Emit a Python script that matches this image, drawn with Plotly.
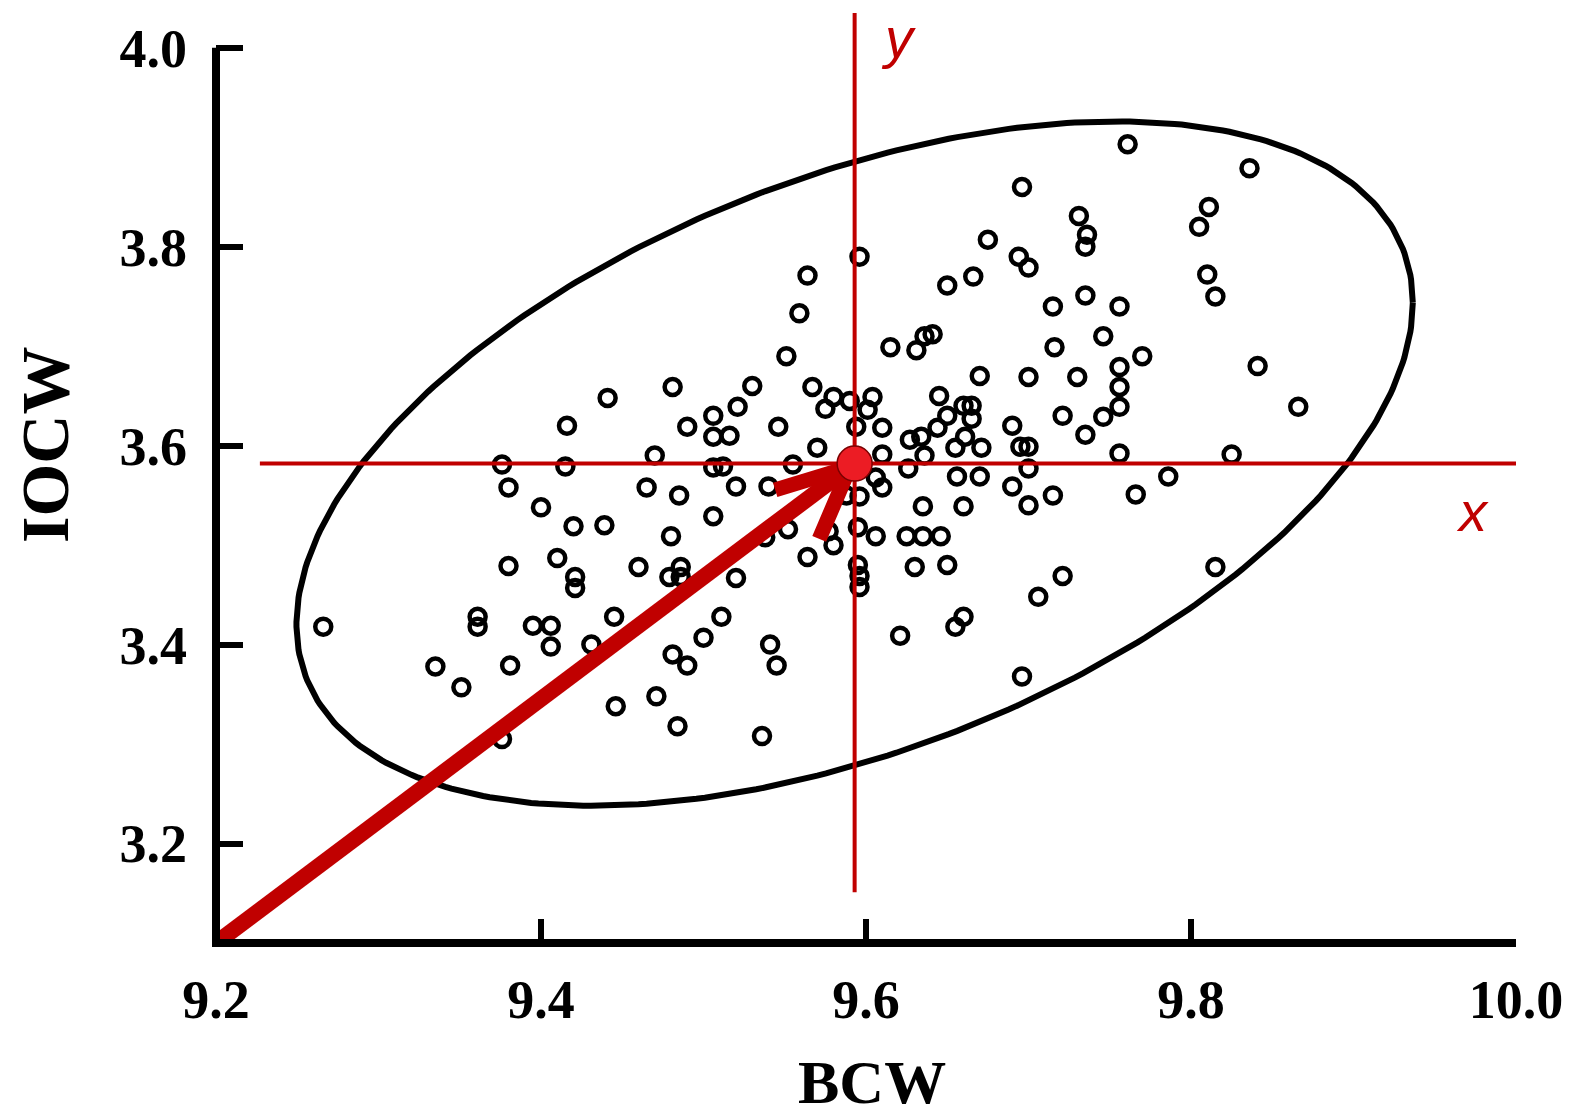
import numpy as np
import plotly.graph_objects as go

# ---------------- data ----------------
bcw = [9.266, 9.335, 9.351, 9.361, 9.361, 9.376, 9.380, 9.380, 9.381, 9.376,
       9.400, 9.395, 9.406, 9.406, 9.410, 9.416, 9.415, 9.420, 9.421, 9.421,
       9.431, 9.441, 9.439, 9.445, 9.446, 9.460, 9.470, 9.465, 9.471, 9.481,
       9.480, 9.486, 9.479, 9.486, 9.485, 9.481, 9.490, 9.484, 9.490, 9.500,
       9.506, 9.506, 9.516, 9.506, 9.512, 9.506, 9.511, 9.521, 9.520, 9.520,
       9.530, 9.540, 9.541, 9.545, 9.536, 9.546, 9.551, 9.559, 9.564, 9.567,
       9.580, 9.575, 9.590, 9.570, 9.555, 9.552, 9.538, 9.577, 9.580, 9.564,
       9.588,
       9.596, 9.604, 9.601, 9.594, 9.610, 9.610, 9.606, 9.610, 9.596, 9.595,
       9.606, 9.595, 9.596, 9.596, 9.615, 9.631, 9.636, 9.641, 9.627, 9.634,
       9.636, 9.626, 9.635, 9.625, 9.635, 9.646, 9.630, 9.621, 9.650, 9.666,
       9.670, 9.645, 9.650, 9.660, 9.665, 9.665, 9.644, 9.661, 9.655, 9.671,
       9.656, 9.670, 9.660, 9.650, 9.660, 9.655, 9.675, 9.696, 9.694, 9.700,
       9.690, 9.695, 9.700, 9.700, 9.700, 9.690, 9.700, 9.706, 9.696, 9.715,
       9.716, 9.715, 9.721, 9.721, 9.731, 9.736, 9.735, 9.735, 9.730, 9.735,
       9.746, 9.746, 9.756, 9.756, 9.756, 9.756, 9.756, 9.766, 9.770, 9.761,
       9.786, 9.805, 9.811, 9.810, 9.815, 9.825, 9.815, 9.836, 9.841, 9.866]

iocw = [3.418, 3.378, 3.357, 3.428, 3.418, 3.581, 3.558, 3.479, 3.379, 3.305,
        3.538, 3.419, 3.419, 3.398, 3.487, 3.620, 3.579, 3.519, 3.468, 3.457,
        3.400, 3.648, 3.520, 3.428, 3.338, 3.478, 3.590, 3.558, 3.348, 3.659,
        3.509, 3.478, 3.468, 3.468, 3.550, 3.390, 3.379, 3.318, 3.619, 3.407,
        3.630, 3.609, 3.610, 3.578, 3.579, 3.529, 3.428, 3.639, 3.559, 3.467,
        3.660, 3.559, 3.400, 3.379, 3.308, 3.619, 3.690, 3.733, 3.771, 3.659,
        3.649, 3.637, 3.645, 3.598, 3.581, 3.516, 3.508, 3.514, 3.500, 3.488,
        3.550,
        3.790, 3.649, 3.636, 3.619, 3.618, 3.591, 3.568, 3.558, 3.549, 3.518,
        3.509, 3.480, 3.469, 3.458, 3.699, 3.696, 3.710, 3.712, 3.606, 3.609,
        3.590, 3.577, 3.539, 3.509, 3.509, 3.509, 3.478, 3.409, 3.761, 3.770,
        3.670, 3.650, 3.630, 3.640, 3.640, 3.627, 3.618, 3.609, 3.598, 3.598,
        3.569, 3.569, 3.539, 3.480, 3.428, 3.418, 3.807, 3.860, 3.790, 3.779,
        3.620, 3.599, 3.599, 3.669, 3.577, 3.559, 3.540, 3.448, 3.368, 3.740,
        3.699, 3.550, 3.630, 3.469, 3.831, 3.812, 3.800, 3.751, 3.669, 3.611,
        3.710, 3.629, 3.740, 3.679, 3.659, 3.639, 3.592, 3.551, 3.690, 3.903,
        3.569, 3.820, 3.840, 3.772, 3.750, 3.591, 3.478, 3.879, 3.680, 3.639]

mean_xy = [9.593, 3.582]          # centroid (red dot)
origin_xy = [9.2, 3.1]            # arrow start
ellipse_r = [0.3435, 0.344]       # ellipse half-extents in x and y
ellipse_rho = 0.47                # correlation of the ellipse
hline_x = [9.227, 10.0]           # extent of the red x axis
vline_y = [3.151, 4.035]          # extent of the red y axis
x_ticks = [9.2, 9.4, 9.6, 9.8, 10.0]
y_ticks = [3.2, 3.4, 3.6, 3.8, 4.0]

# ---------------- layout geometry ----------------
W, H = 1571, 1119
ML, MR, MT, MB = 216, 55, 8, 176
xr = [9.2, 10.0]
yr = [3.1, 4.04]
plot_w = W - ML - MR
plot_h = H - MT - MB
sx = plot_w / (xr[1] - xr[0])
sy = plot_h / (yr[1] - yr[0])

RED = "#C00000"
SERIF = "Liberation Serif"

fig = go.Figure()

# ellipse
t = np.linspace(0, 2 * np.pi, 400)
phi = np.arccos(ellipse_rho)
ex = mean_xy[0] + ellipse_r[0] * np.cos(t)
ey = mean_xy[1] + ellipse_r[1] * np.cos(t - phi)
fig.add_trace(go.Scatter(x=ex, y=ey, mode="lines",
                         line=dict(color="black", width=6), hoverinfo="skip"))

# data points
fig.add_trace(go.Scatter(x=bcw, y=iocw, mode="markers",
                         marker=dict(symbol="circle-open", size=16, color="black",
                                     line=dict(width=4.5, color="black")),
                         hoverinfo="skip"))

# red axes through the centroid
fig.add_trace(go.Scatter(x=hline_x, y=[mean_xy[1]] * 2, mode="lines",
                         line=dict(color=RED, width=4), hoverinfo="skip"))
fig.add_trace(go.Scatter(x=[mean_xy[0]] * 2, y=vline_y, mode="lines",
                         line=dict(color=RED, width=4), hoverinfo="skip"))

# arrow from origin to centroid
ang = np.arctan2((mean_xy[1] - origin_xy[1]) * sy, (mean_xy[0] - origin_xy[0]) * sx)
back_px = 6
tip = [mean_xy[0] - back_px * np.cos(ang) / sx, mean_xy[1] - back_px * np.sin(ang) / sy]
fig.add_trace(go.Scatter(x=[origin_xy[0], tip[0]], y=[origin_xy[1], tip[1]], mode="lines",
                         line=dict(color=RED, width=16), hoverinfo="skip"))
barb_len = 78
b1 = ang + np.pi - np.radians(20)
b2 = ang + np.pi + np.radians(30)
fig.add_trace(go.Scatter(
    x=[tip[0] + barb_len * np.cos(b1) / sx, tip[0], tip[0] + barb_len * np.cos(b2) / sx],
    y=[tip[1] + barb_len * np.sin(b1) / sy, tip[1], tip[1] + barb_len * np.sin(b2) / sy],
    mode="lines", line=dict(color=RED, width=15), hoverinfo="skip"))

# centroid dot
fig.add_trace(go.Scatter(x=[mean_xy[0]], y=[mean_xy[1]], mode="markers",
                         marker=dict(symbol="circle", size=35, color="#EC1C24",
                                     line=dict(width=1.5, color="#7a0000")),
                         hoverinfo="skip"))

# own axis lines (stop at 4.0)
ytop = (y_ticks[-1] - yr[0]) / (yr[1] - yr[0])
fig.add_shape(type="line", xref="x domain", yref="y domain", x0=0, x1=0,
              y0=-4 / plot_h, y1=ytop, line=dict(color="black", width=8))
fig.add_shape(type="line", xref="x domain", yref="y domain", x0=0, x1=1,
              y0=0, y1=0, line=dict(color="black", width=8))

tickfont = dict(family=SERIF, size=54, color="black", weight="bold")
fig.update_xaxes(range=xr, tickvals=x_ticks, tickformat=".1f", ticks="inside",
                 ticklen=24, tickwidth=6, tickcolor="black", showline=False,
                 showgrid=False, zeroline=False, tickfont=tickfont,
                 ticklabelstandoff=20)
fig.update_yaxes(range=yr, tickvals=y_ticks, tickformat=".1f", ticks="inside",
                 ticklen=27, tickwidth=6, tickcolor="black", showline=False,
                 showgrid=False, zeroline=False, tickfont=tickfont,
                 ticklabelstandoff=28)

fig.add_annotation(text="BCW", xref="paper", yref="paper",
                   x=(872 - ML) / plot_w, y=-(1082 - (H - MB)) / plot_h,
                   showarrow=False,
                   font=dict(family=SERIF, size=62, color="black", weight="bold"),
                   xanchor="center", yanchor="middle")
fig.add_annotation(text="IOCW", xref="paper", yref="paper", textangle=-90,
                   x=(45 - ML) / plot_w, y=((H - MB) - 445) / plot_h,
                   showarrow=False,
                   font=dict(family=SERIF, size=68, color="black", weight="bold"),
                   xanchor="center", yanchor="middle")

labfont = dict(family="Liberation Sans", size=56, color=RED, style="italic")
fig.add_annotation(text="y", x=mean_xy[0] + 0.027, y=4.01, xref="x", yref="y",
                   showarrow=False, font=labfont, xanchor="center", yanchor="middle")
fig.add_annotation(text="x", x=9.9735, y=3.534, xref="x", yref="y",
                   showarrow=False, font=labfont, xanchor="center", yanchor="middle")

fig.update_layout(width=W, height=H, margin=dict(l=ML, r=MR, t=MT, b=MB),
                  plot_bgcolor="white", paper_bgcolor="white", showlegend=False)

fig.write_html("out.html", config={"displayModeBar": False},
               post_script="document.body.style.margin='0';document.body.style.overflow='hidden';")
